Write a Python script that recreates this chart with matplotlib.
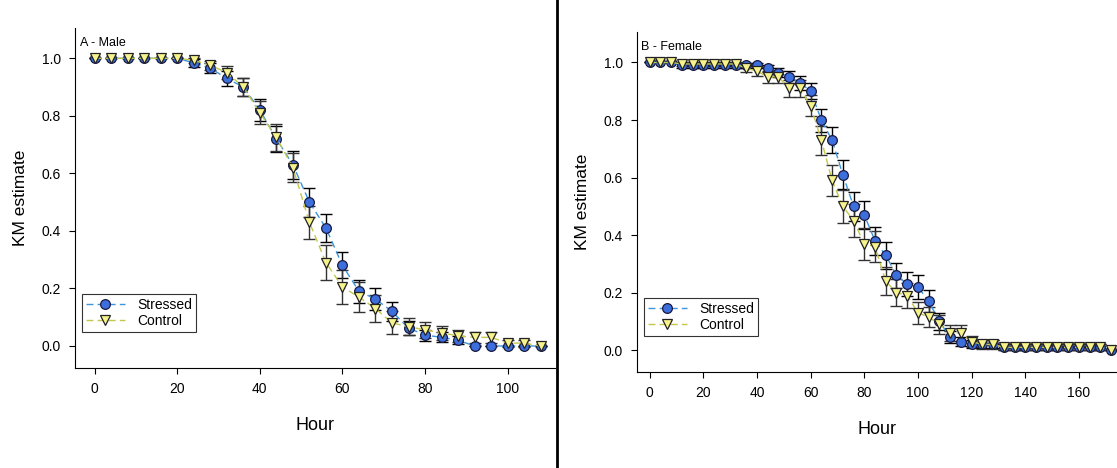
import matplotlib.pyplot as plt
from matplotlib.lines import Line2D

plt.rcParams["font.family"] = ["Liberation Sans", "DejaVu Sans"]

# Male (panel A), every 4 hours
male_hours = list(range(0, 109, 4))
male_stressed = [1.0, 1.0, 1.0, 1.0, 1.0, 1.0,
                 0.984, 0.966, 0.93, 0.90, 0.82, 0.72, 0.63, 0.50, 0.41, 0.28,
                 0.19, 0.163, 0.12, 0.062, 0.038, 0.03, 0.02, 0.0, 0.0, 0.0, 0.0, 0.0]
male_stressed_se = [0, 0, 0, 0, 0, 0,
                    0.013, 0.018, 0.026, 0.03, 0.038, 0.045, 0.048, 0.05, 0.049, 0.045,
                    0.039, 0.037, 0.032, 0.024, 0.019, 0.017, 0.014, 0, 0, 0, 0, 0]
male_control = [1.0, 1.0, 1.0, 1.0, 1.0, 1.0,
                0.993, 0.976, 0.95, 0.90, 0.81, 0.725, 0.62, 0.43, 0.29, 0.205,
                0.17, 0.13, 0.08, 0.067, 0.056, 0.046, 0.035, 0.03, 0.03, 0.01, 0.01, 0.0]
male_control_se = [0, 0, 0, 0, 0, 0,
                   0.008, 0.015, 0.022, 0.03, 0.04, 0.046, 0.05, 0.058, 0.062, 0.058,
                   0.052, 0.046, 0.04, 0.03, 0.027, 0.025, 0.022, 0.02, 0.02, 0.012, 0.012, 0]

# Female (panel B), every 4 hours
female_hours = list(range(0, 173, 4))
female_stressed = [1.0, 1.0, 1.0, 0.99, 0.99, 0.99, 0.99, 0.99, 0.99, 0.99, 0.99,
                   0.98, 0.965, 0.95, 0.93, 0.90, 0.80, 0.73, 0.61, 0.50, 0.47, 0.38,
                   0.33, 0.26, 0.23, 0.22, 0.17, 0.10,
                   0.045, 0.03, 0.02, 0.02, 0.02, 0.01, 0.01, 0.01, 0.01, 0.01,
                   0.01, 0.01, 0.01, 0.01, 0.01, 0.0]
female_stressed_se = [0, 0, 0, 0.008, 0.008, 0.008, 0.008, 0.008, 0.008, 0.008, 0.008,
                      0.012, 0.016, 0.02, 0.024, 0.028, 0.04, 0.045, 0.05, 0.05, 0.05, 0.049,
                      0.047, 0.044, 0.042, 0.041, 0.038, 0.03,
                      0.02, 0.017, 0.014, 0.014, 0.014, 0.01, 0.01, 0.01, 0.01, 0.01,
                      0.01, 0.01, 0.01, 0.01, 0.01, 0]
female_control = [1.0, 1.0, 1.0, 0.995, 0.995, 0.995, 0.995, 0.995, 0.995,
                  0.98, 0.97, 0.95, 0.95, 0.91, 0.91, 0.85, 0.73, 0.59, 0.50, 0.45,
                  0.37, 0.36, 0.24, 0.20, 0.19, 0.13, 0.115, 0.09,
                  0.06, 0.06, 0.03, 0.02, 0.02, 0.01, 0.01, 0.01, 0.01, 0.01,
                  0.01, 0.01, 0.01, 0.01, 0.01, 0.0]
female_control_se = [0, 0, 0, 0.006, 0.006, 0.006, 0.006, 0.006, 0.006,
                     0.012, 0.017, 0.022, 0.022, 0.029, 0.029, 0.036, 0.05, 0.055, 0.057, 0.057,
                     0.055, 0.055, 0.049, 0.046, 0.045, 0.038, 0.036, 0.033,
                     0.027, 0.027, 0.019, 0.016, 0.016, 0.011, 0.011, 0.011, 0.011, 0.011,
                     0.011, 0.011, 0.011, 0.011, 0.011, 0]

stressed_face = "#3c6fdc"
stressed_line = "#3d95dc"
control_face = "#f6f28c"
control_line = "#c4c84a"


def draw_panel(ax, hours, stressed, s_se, control, c_se, label):
    ax.errorbar(hours, stressed, yerr=s_se, fmt="none", ecolor="black",
                elinewidth=1, capsize=4, capthick=1, zorder=2)
    ax.errorbar(hours, control, yerr=c_se, fmt="none", ecolor="#333333",
                elinewidth=1, capsize=4, capthick=1, zorder=2)
    ax.plot(hours, stressed, ls=(0, (5, 3)), color=stressed_line, lw=1,
            marker="o", ms=7, mfc=stressed_face, mec="#1a1a40", mew=0.9,
            label="Stressed", zorder=3)
    ax.plot(hours, control, ls=(0, (5, 3)), color=control_line, lw=1,
            marker="v", ms=7.5, mfc=control_face, mec="#222222", mew=0.9,
            label="Control", zorder=4)
    ax.set_ylim(-0.076, 1.105)
    ax.set_yticks([0.0, 0.2, 0.4, 0.6, 0.8, 1.0])
    ax.set_yticklabels(["0.0", "0.2", "0.4", "0.6", "0.8", "1.0"])
    ax.spines["top"].set_visible(False)
    ax.spines["right"].set_visible(False)
    ax.tick_params(direction="out", length=4, labelsize=10, pad=6)
    ax.set_xlabel("Hour", fontsize=13, labelpad=15)
    ax.set_ylabel("KM estimate", fontsize=12.5, labelpad=10)
    ax.text(0.01, 0.975, label, transform=ax.transAxes, fontsize=9,
            ha="left", va="top")
    leg = ax.legend(loc="lower left", bbox_to_anchor=(0.0, 0.085),
                    fontsize=10, frameon=True, fancybox=False,
                    edgecolor="black", handlelength=2.8, handletextpad=0.9,
                    borderpad=0.3, labelspacing=0.15)
    leg.get_frame().set_linewidth(0.8)


fig = plt.figure(figsize=(11.17, 4.68), dpi=100)

ax1 = fig.add_axes([0.067, 0.214, 0.43, 0.726])
draw_panel(ax1, male_hours, male_stressed, male_stressed_se,
           male_control, male_control_se, "A - Male")
ax1.set_xlim(-4.8, 111.5)
ax1.set_xticks([0, 20, 40, 60, 80, 100])

ax2 = fig.add_axes([0.570, 0.205, 0.43, 0.726])
draw_panel(ax2, female_hours, female_stressed, female_stressed_se,
           female_control, female_control_se, "B - Female")
ax2.set_xlim(-4.85, 174.2)
ax2.set_xticks([0, 20, 40, 60, 80, 100, 120, 140, 160])

# divider between the panels
fig.add_artist(Line2D([0.4985, 0.4985], [0, 1], transform=fig.transFigure,
                      color="black", lw=2))

plt.savefig("out.png", dpi=100)
